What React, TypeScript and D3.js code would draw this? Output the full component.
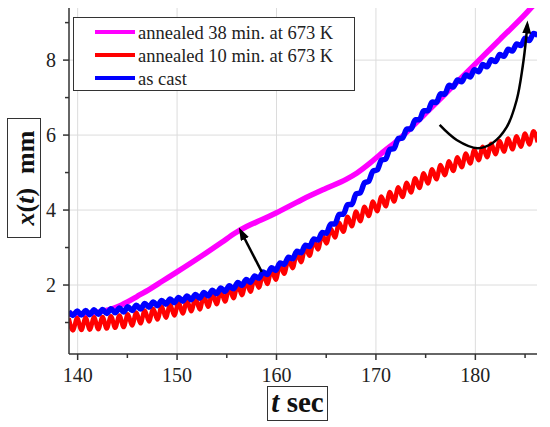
import React from 'react';
import * as d3 from 'd3';

const W = 550, H = 427;
const PL = 69, PR = 537, PT = 8, PB = 354;
const xDomain = [139.13, 186.2];
const yDomain = [0.16, 9.39];
const xTicks = [140, 150, 160, 170, 180];
const xMinor = [145, 155, 165, 175, 185];
const yTicks = [2, 4, 6, 8];
const yMinor = [1, 3, 5, 7, 9];

// sampling of the oscillating records (s)
const T0 = 139.1, DT = 0.425;

// annealed 10 min. at 673 K (peaks / troughs)
const red = [
  1.11,0.79,1.12,0.80,1.13,0.81,1.14,0.82,1.15,0.84,
  1.17,0.86,1.19,0.88,1.22,0.92,1.27,0.98,1.32,1.03,
  1.37,1.08,1.43,1.13,1.48,1.19,1.54,1.24,1.59,1.30,
  1.65,1.35,1.71,1.42,1.78,1.49,1.85,1.56,1.93,1.65,
  2.01,1.73,2.10,1.82,2.19,1.93,2.30,2.03,2.41,2.14,
  2.54,2.30,2.69,2.45,2.85,2.61,3.01,2.78,3.18,2.95,
  3.35,3.11,3.51,3.27,3.66,3.42,3.82,3.57,3.96,3.70,
  4.09,3.84,4.23,3.97,4.36,4.10,4.48,4.23,4.61,4.35,
  4.73,4.47,4.85,4.59,4.98,4.71,5.09,4.82,5.20,4.93,
  5.30,5.04,5.41,5.14,5.51,5.24,5.61,5.33,5.69,5.41,
  5.77,5.49,5.84,5.56,5.91,5.62,5.97,5.69,6.04,5.75,
  6.10,5.81,
];

// as cast
const blue = [
  1.30,1.19,1.31,1.20,1.32,1.21,1.34,1.22,1.35,1.24,
  1.37,1.26,1.39,1.28,1.42,1.32,1.46,1.36,1.51,1.41,
  1.55,1.45,1.59,1.49,1.63,1.53,1.67,1.57,1.71,1.61,
  1.75,1.65,1.80,1.71,1.86,1.77,1.92,1.83,1.98,1.90,
  2.07,1.99,2.15,2.07,2.24,2.18,2.35,2.28,2.46,2.39,
  2.59,2.55,2.74,2.70,2.90,2.86,3.06,3.03,3.23,3.20,
  3.40,3.38,3.63,3.63,3.88,3.89,4.14,4.15,4.43,4.46,
  4.73,4.77,5.04,5.07,5.33,5.36,5.62,5.64,5.91,5.92,
  6.16,6.16,6.41,6.41,6.65,6.65,6.88,6.87,7.10,7.09,
  7.33,7.28,7.47,7.42,7.60,7.55,7.74,7.69,7.88,7.82,
  8.01,7.96,8.15,8.10,8.29,8.24,8.43,8.39,8.58,8.52,
  8.71,8.66,
];

// annealed 38 min. at 673 K
const magT = [139.1, 141, 143, 144, 145, 146, 147.3, 148.5, 150, 152.5, 154.5, 155.8, 157, 158.5, 160, 162.5, 165, 167, 168.1, 169.4, 170.5, 172.5, 175, 177.5, 180, 182.5, 185, 185.8];
const magY = [1.22, 1.24, 1.33, 1.42, 1.55, 1.70, 1.90, 2.10, 2.35, 2.78, 3.14, 3.38, 3.56, 3.74, 3.93, 4.27, 4.58, 4.82, 4.99, 5.25, 5.50, 5.93, 6.58, 7.24, 7.90, 8.56, 9.22, 9.45];

const legendLabels = ['annealed 38 min. at 673 K', 'annealed 10 min. at 673 K', 'as cast'];
const seriesColors = ['#ff00ff', '#ff0000', '#0000ff'];

// annotation arrows (data coordinates)
const arrowStraight: [number, number][] = [[158.52, 2.35], [156.4, 3.44]];
const arrowCurved: [number, number][] = [
  [176.41, 6.27], [178.12, 5.87], [180.23, 5.65], [181.74, 5.79], [183.15, 6.21],
  [184.15, 6.93], [184.75, 7.81], [185.12, 8.62], [185.22, 8.95],
];

const FONT = "'Liberation Serif','Times New Roman',serif";

export default function App() {
  const x = d3.scaleLinear().domain(xDomain).range([PL, PR]);
  const y = d3.scaleLinear().domain(yDomain).range([PB, PT]);

  const osc = (vals: number[]) => vals.map((v, i) => [T0 + i * DT, v] as [number, number]);
  const lineM = d3.line<[number, number]>().x(d => x(d[0])).y(d => y(d[1])).curve(d3.curveMonotoneX);
  const lineL = d3.line<[number, number]>().x(d => x(d[0])).y(d => y(d[1])).curve(d3.curveLinear);
  const lineC = d3.line<[number, number]>().x(d => x(d[0])).y(d => y(d[1])).curve(d3.curveCatmullRom.alpha(0.5));

  const magPts = magT.map((t, i) => [t, magY[i]] as [number, number]);

  return (
    <svg width={W} height={H} style={{ position: 'fixed', left: 0, top: 0, background: '#fff' }} fontFamily={FONT}>
      <defs>
        <clipPath id="plot"><rect x={PL} y={PT} width={PR - PL} height={PB - PT} /></clipPath>
        <marker id="ah" markerUnits="userSpaceOnUse" markerWidth={14} markerHeight={10} refX={9} refY={4.5} orient="auto">
          <path d="M0,0 L13,4.5 L0,9 Z" fill="#000" />
        </marker>
      </defs>
      <rect x={0} y={0} width={W} height={H} fill="#fff" />
      {/* grid */}
      {xTicks.map(t => <line key={'gx' + t} x1={x(t)} x2={x(t)} y1={PT} y2={PB} stroke="#dcdcdc" strokeWidth={1} />)}
      {yTicks.map(t => <line key={'gy' + t} x1={PL} x2={PR} y1={y(t)} y2={y(t)} stroke="#dcdcdc" strokeWidth={1} />)}

      {/* series */}
      <g clipPath="url(#plot)">
        <path d={lineM(magPts) || ''} fill="none" stroke={seriesColors[0]} strokeWidth={5.5} strokeLinejoin="round" />
        <path d={lineM(osc(red)) || ''} fill="none" stroke={seriesColors[1]} strokeWidth={4.5} strokeLinejoin="round" />
        <path d={lineM(osc(blue)) || ''} fill="none" stroke={seriesColors[2]} strokeWidth={5.5} strokeLinejoin="miter" />
      </g>

      {/* arrows */}
      <path d={lineL(arrowStraight) || ''} fill="none" stroke="#000" strokeWidth={2.5} markerEnd="url(#ah)" />
      <path d={lineC(arrowCurved) || ''} fill="none" stroke="#000" strokeWidth={2.5} markerEnd="url(#ah)" />

      {/* axes */}
      <line x1={PL} x2={PL} y1={PT} y2={PB} stroke="#333" strokeWidth={1.5} />
      <line x1={PL} x2={PR} y1={PB} y2={PB} stroke="#333" strokeWidth={1.5} />
      {yTicks.map(t => <line key={'ty' + t} x1={PL - 6} x2={PL} y1={y(t)} y2={y(t)} stroke="#333" strokeWidth={1.5} />)}
      {yMinor.map(t => <line key={'tym' + t} x1={PL - 4} x2={PL} y1={y(t)} y2={y(t)} stroke="#333" strokeWidth={1.5} />)}
      {xTicks.map(t => <line key={'tx' + t} x1={x(t)} x2={x(t)} y1={PB} y2={PB + 6} stroke="#333" strokeWidth={1.5} />)}
      {xMinor.map(t => <line key={'txm' + t} x1={x(t)} x2={x(t)} y1={PB} y2={PB + 4} stroke="#333" strokeWidth={1.5} />)}
      {yTicks.map(t => <text key={'ly' + t} x={56} y={y(t)} dy="0.35em" textAnchor="end" fontSize={20} fill="#222">{t}</text>)}
      {xTicks.map(t => <text key={'lx' + t} x={x(t)} y={382} textAnchor="middle" fontSize={20} fill="#222">{t}</text>)}

      {/* axis titles */}
      <rect x={7.5} y={118.5} width={33} height={119} fill="#fff" stroke="#333" strokeWidth={1} />
      <text transform="translate(34,178) rotate(-90)" textAnchor="middle" fontSize={26} fontWeight="bold" fill="#111">
        <tspan fontStyle="italic">x</tspan>(<tspan fontStyle="italic">t</tspan>)<tspan dx={14}>mm</tspan>
      </text>
      <rect x={267.5} y={386.5} width={60} height={34} fill="#fff" stroke="#333" strokeWidth={1} />
      <text x={297.5} y={412} textAnchor="middle" fontSize={29} fontWeight="bold" fill="#111">
        <tspan fontStyle="italic">t</tspan> sec
      </text>

      {/* legend */}
      <rect x={73.5} y={17.5} width={281} height={73} fill="#fff" stroke="#333" strokeWidth={1} />
      {legendLabels.map((lab, i) => (
        <g key={lab}>
          <line x1={95} x2={135} y1={32 + i * 23} y2={32 + i * 23} stroke={seriesColors[i]} strokeWidth={4} />
          <text x={138} y={38.5 + i * 23} fontSize={18.5} fill="#222">{lab}</text>
        </g>
      ))}
    </svg>
  );
}
